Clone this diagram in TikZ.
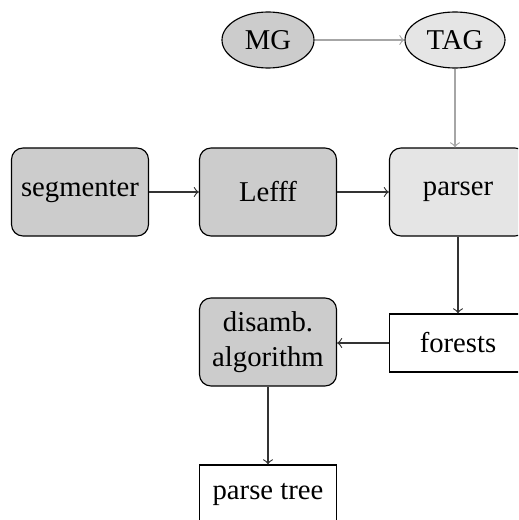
\documentclass[tikz,border=0pt]{standalone}
\usepackage{fontspec}
\setmainfont{Liberation Serif}
\usetikzlibrary{shapes.geometric}
\newcommand{\pixelsize}{0.3485pt}

\begin{document}
\begin{tikzpicture}[x=\pixelsize,y=-\pixelsize,
	tool/.style={draw, rounded corners=4pt, fill=#1, minimum width=137*\pixelsize, minimum height=88*\pixelsize, align=center, inner sep=1pt},
	data/.style={draw, fill=white, minimum width=137*\pixelsize, minimum height=58*\pixelsize, inner sep=1pt},
	grammar/.style={draw, ellipse, fill=#1, minimum height=56*\pixelsize, inner sep=0pt},
	flow/.style={->, black!80},
	gflow/.style={->, black!35}]
	\useasboundingbox (0,0) rectangle (518,520);
	\begin{scope}
	\clip (0,0) rectangle (518,520);
	\node [grammar=black!20, minimum width=92*\pixelsize] (MG) at (268,40) {MG};
	\node [grammar=black!10, minimum width=100*\pixelsize] (TAG) at (455,40) {TAG};

	\node [tool=black!20] (segmenter) at (80,192) {segmenter};
	\node [tool=black!20] (lefff) at (268,192) {Lefff};
	\node [tool=black!10] (parser) at (458,192) {parser};
	\node [data] (forests) at (458,343) {forests};
	\node [tool=black!20] (disamb) at (268,342) {disamb.\\algorithm};
	\node [data] (tree) at (268,494) {parse tree};

	\draw [gflow] (MG) -- (TAG);
	\draw [gflow] (TAG.south) -- (TAG.south |- parser.north);
	\draw [flow] (segmenter) -- (lefff);
	\draw [flow] (lefff) -- (parser.west |- lefff.east);
	\draw [flow] (parser.south -| forests.north) -- (forests.north);
	\draw [flow] (forests.west) -- (disamb.east |- forests.west);
	\draw [flow] (disamb) -- (tree);
	\end{scope}
\end{tikzpicture}
\end{document}
